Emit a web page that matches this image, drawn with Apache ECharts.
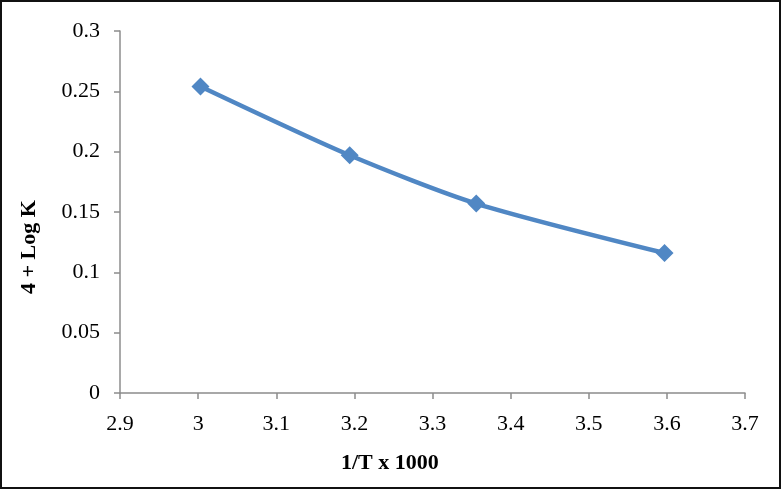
<!DOCTYPE html>
<html>
<head>
<meta charset="utf-8">
<script src="https://cdn.jsdelivr.net/npm/echarts@6/dist/echarts.min.js"></script>
<style>
  html, body { margin: 0; padding: 0; background: #fff; }
  #chart {
    width: 781px;
    height: 489px;
    box-sizing: border-box;
    border: 2px solid #111;
  }
</style>
</head>
<body>
<div id="chart"></div>
<script>
  // data
  const invT = [3.003, 3.194, 3.356, 3.597];
  const logK = [0.254, 0.197, 0.157, 0.116];
  const xTicks = [2.9, 3.7, 0.1];   // min, max, step
  const yTicks = [0, 0.3, 0.05];

  const chart = echarts.init(document.getElementById('chart'));
  const font = '"Liberation Serif", "DejaVu Serif", serif';

  const option = {
    backgroundColor: '#fff',
    animation: false,
    grid: { left: 118, right: 34, top: 29, bottom: 94 },
    xAxis: {
      type: 'value',
      min: xTicks[0],
      max: xTicks[1],
      interval: xTicks[2],
      axisLine: { onZero: false, lineStyle: { color: '#8c8c8c', width: 1.5 } },
      axisTick: { inside: false, length: 6, lineStyle: { color: '#8c8c8c', width: 1.5 } },
      axisLabel: {
        color: '#000', fontFamily: font, fontSize: 22, margin: 20,
        formatter: v => String(Math.round(v * 10) / 10)
      },
      splitLine: { show: false }
    },
    yAxis: {
      type: 'value',
      min: yTicks[0],
      max: yTicks[1],
      interval: yTicks[2],
      axisLine: { show: true, lineStyle: { color: '#8c8c8c', width: 1.5 } },
      axisTick: { show: true, length: 6, lineStyle: { color: '#8c8c8c', width: 1.5 } },
      axisLabel: {
        color: '#000', fontFamily: font, fontSize: 22, margin: 20,
        formatter: v => String(Math.round(v * 100) / 100)
      },
      splitLine: { show: false }
    },
    graphic: [
      {
        type: 'text',
        left: 339, top: 450,
        style: { text: '1/T x 1000', fontFamily: font, fontSize: 22, fontWeight: 'bold', fill: '#000' }
      },
      {
        type: 'text',
        x: 27, y: 245,
        rotation: Math.PI / 2,
        style: {
          text: '4 + Log K', fontFamily: font, fontSize: 22, fontWeight: 'bold', fill: '#000',
          align: 'center', verticalAlign: 'middle'
        }
      }
    ],
    series: [
      {
        type: 'line',
        smooth: 0.25,
        data: invT.map((x, i) => [x, logK[i]]),
        symbol: 'diamond',
        symbolSize: 18,
        lineStyle: { color: '#5087c4', width: 4.5 },
        itemStyle: { color: '#5087c4' }
      }
    ]
  };

  chart.setOption(option);
</script>
</body>
</html>
